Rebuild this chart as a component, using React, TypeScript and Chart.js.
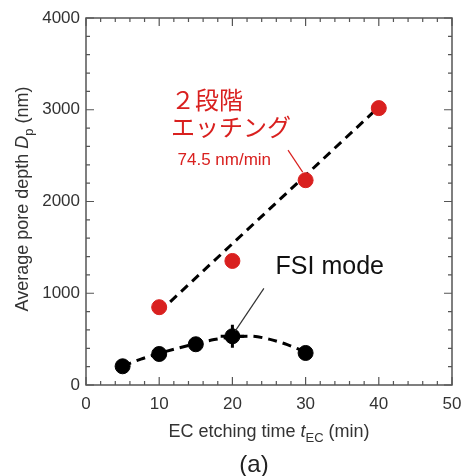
import React, { useEffect, useRef } from "react";
import { Chart, registerables } from "chart.js";

Chart.register(...registerables);

const twoStepTimes = [10, 20, 30, 40];
const twoStepDepths = [848, 1352, 2232, 3018];
const fsiTimes = [5, 10, 15, 20, 30];
const fsiDepths = [204, 338, 444, 531, 349];
const fsiErrY = [0, 0, 0, 125, 0];
const fsiErrX = [0, 0, 0, 1.6, 0];
const twoStepFitTimes = [10, 40];
const twoStepFitDepths = [795, 3030];
const fsiFitTimes = [5, 7.5, 10, 12.5, 15, 17.5, 20, 22.5, 25, 27.5, 30];
const fsiFitDepths = [205, 282, 345, 400, 450, 495, 525, 532, 500, 440, 360];
const xTicks = [0, 10, 20, 30, 40, 50];
const yTicks = [0, 1000, 2000, 3000, 4000];

const RED = "#d9201f";
const SANS = "'Liberation Sans', Arial, sans-serif";
const CJK = "'Noto Sans CJK JP', sans-serif";

type Part = { t: string; italic?: boolean; sub?: boolean };

function drawRich(ctx: CanvasRenderingContext2D, parts: Part[], size: number, color: string) {
  const subSize = Math.round(size * 0.72);
  const fontFor = (p: Part) => `${p.italic ? "italic " : ""}${p.sub ? subSize : size}px ${SANS}`;
  let total = 0;
  const widths = parts.map((p) => {
    ctx.font = fontFor(p);
    const w = ctx.measureText(p.t).width;
    total += w;
    return w;
  });
  let x = -total / 2;
  ctx.fillStyle = color;
  ctx.textBaseline = "middle";
  ctx.textAlign = "left";
  parts.forEach((p, i) => {
    ctx.font = fontFor(p);
    ctx.fillText(p.t, x, p.sub ? size * 0.38 : 0);
    x += widths[i];
  });
}

const decoPlugin = {
  id: "deco",
  afterDatasetsDraw(chart: any) {
    const ctx: CanvasRenderingContext2D = chart.ctx;
    const xs = chart.scales.x;
    const ys = chart.scales.y;
    const a = chart.chartArea;
    const px = (v: number) => xs.getPixelForValue(v);
    const py = (v: number) => ys.getPixelForValue(v);
    ctx.save();
    ctx.strokeStyle = "#555";
    ctx.lineWidth = 1.5;
    ctx.strokeRect(a.left, a.top, a.right - a.left, a.bottom - a.top);
    ctx.lineWidth = 1.2;
    ctx.beginPath();
    for (let v = 0; v <= 50; v += 2) {
      const major = v % 10 === 0;
      const L = major ? 8 : 4;
      const x = px(v);
      ctx.moveTo(x, a.bottom);
      ctx.lineTo(x, a.bottom - L);
      ctx.moveTo(x, a.top);
      ctx.lineTo(x, a.top + L);
    }
    for (let v = 0; v <= 4000; v += 200) {
      const major = v % 1000 === 0;
      const L = major ? 8 : 4;
      const y = py(v);
      ctx.moveTo(a.left, y);
      ctx.lineTo(a.left + L, y);
      ctx.moveTo(a.right, y);
      ctx.lineTo(a.right - L, y);
    }
    ctx.stroke();

    ctx.strokeStyle = "#000";
    ctx.lineWidth = 3;
    ctx.beginPath();
    fsiTimes.forEach((t, i) => {
      if (fsiErrY[i] > 0) {
        ctx.moveTo(px(t), py(fsiDepths[i] - fsiErrY[i]));
        ctx.lineTo(px(t), py(fsiDepths[i] + fsiErrY[i]));
      }
      if (fsiErrX[i] > 0) {
        ctx.moveTo(px(t - fsiErrX[i]), py(fsiDepths[i]));
        ctx.lineTo(px(t + fsiErrX[i]), py(fsiDepths[i]));
      }
    });
    ctx.stroke();

    ctx.lineWidth = 1.2;
    ctx.strokeStyle = RED;
    ctx.beginPath();
    ctx.moveTo(px(27.6), py(2560));
    ctx.lineTo(px(29.6), py(2320));
    ctx.stroke();
    ctx.strokeStyle = "#333";
    ctx.beginPath();
    ctx.moveTo(px(24.3), py(1054));
    ctx.lineTo(px(20.4), py(590));
    ctx.stroke();

    ctx.textAlign = "left";
    ctx.textBaseline = "middle";
    ctx.fillStyle = RED;
    ctx.font = `24px ${CJK}`;
    ctx.fillText("２段階", px(11.6), py(3103));
    ctx.fillText("エッチング", px(11.6), py(2809));
    ctx.font = `17px ${SANS}`;
    ctx.fillText("74.5 nm/min", px(12.5), py(2449));
    ctx.fillStyle = "#111";
    ctx.font = `25px ${SANS}`;
    ctx.fillText("FSI mode", px(25.9), py(1283));

    const cx = (a.left + a.right) / 2;
    ctx.save();
    ctx.translate(cx, a.bottom + 47);
    drawRich(ctx, [{ t: "EC etching time " }, { t: "t", italic: true }, { t: "EC", sub: true }, { t: " (min)" }], 18, "#333");
    ctx.restore();
    ctx.save();
    ctx.translate(254, a.bottom + 80);
    drawRich(ctx, [{ t: "(a)" }], 24, "#222");
    ctx.restore();
    ctx.save();
    ctx.translate(23, 199);
    ctx.rotate(-Math.PI / 2);
    drawRich(ctx, [{ t: "Average pore depth " }, { t: "D", italic: true }, { t: "p", sub: true }, { t: " (nm)" }], 18, "#333");
    ctx.restore();

    ctx.restore();
  },
};

export default function App() {
  const ref = useRef<HTMLCanvasElement>(null);
  useEffect(() => {
    document.body.style.margin = "0";
    const toPts = (xsArr: number[], ysArr: number[]) => xsArr.map((x, i) => ({ x, y: ysArr[i] }));
    const chart = new Chart(ref.current as HTMLCanvasElement, {
      type: "scatter",
      data: {
        datasets: [
          {
            type: "line",
            data: toPts(twoStepFitTimes, twoStepFitDepths),
            borderColor: "#000",
            borderWidth: 3,
            borderDash: [9, 6],
            pointRadius: 0,
            fill: false,
            order: 3,
          } as any,
          {
            type: "line",
            data: toPts(fsiFitTimes, fsiFitDepths),
            borderColor: "#000",
            borderWidth: 3,
            borderDash: [9, 6],
            pointRadius: 0,
            cubicInterpolationMode: "monotone",
            fill: false,
            order: 3,
          } as any,
          {
            data: toPts(twoStepTimes, twoStepDepths),
            backgroundColor: RED,
            borderColor: RED,
            pointRadius: 7.5,
            order: 1,
          },
          {
            data: toPts(fsiTimes, fsiDepths),
            backgroundColor: "#000",
            borderColor: "#000",
            pointRadius: 7.5,
            order: 1,
          },
        ],
      },
      options: {
        animation: false,
        responsive: false,
        layout: { padding: { top: 18, right: 12, left: 0, bottom: 0 } },
        plugins: { legend: { display: false }, tooltip: { enabled: false } },
        scales: {
          x: {
            type: "linear",
            min: 0,
            max: 50,
            afterFit: (s: any) => { s.height = 91; s.paddingLeft = 0; s.paddingRight = 0; },
            afterBuildTicks: (s: any) => { s.ticks = xTicks.map((v) => ({ value: v })); },
            grid: { display: false, drawTicks: false },
            border: { display: false },
            ticks: { padding: 9, color: "#333", font: { size: 17, family: SANS }, callback: (v: any) => String(v) },
          },
          y: {
            type: "linear",
            min: 0,
            max: 4000,
            afterFit: (s: any) => { s.width = 86; s.paddingTop = 0; s.paddingBottom = 0; },
            afterBuildTicks: (s: any) => { s.ticks = yTicks.map((v) => ({ value: v })); },
            grid: { display: false, drawTicks: false },
            border: { display: false },
            ticks: { padding: 6, color: "#333", font: { size: 17, family: SANS }, callback: (v: any) => String(v) },
          },
        },
      },
      plugins: [decoPlugin],
    });
    return () => chart.destroy();
  }, []);
  return <canvas ref={ref} width={464} height={476} style={{ display: "block" }} />;
}
